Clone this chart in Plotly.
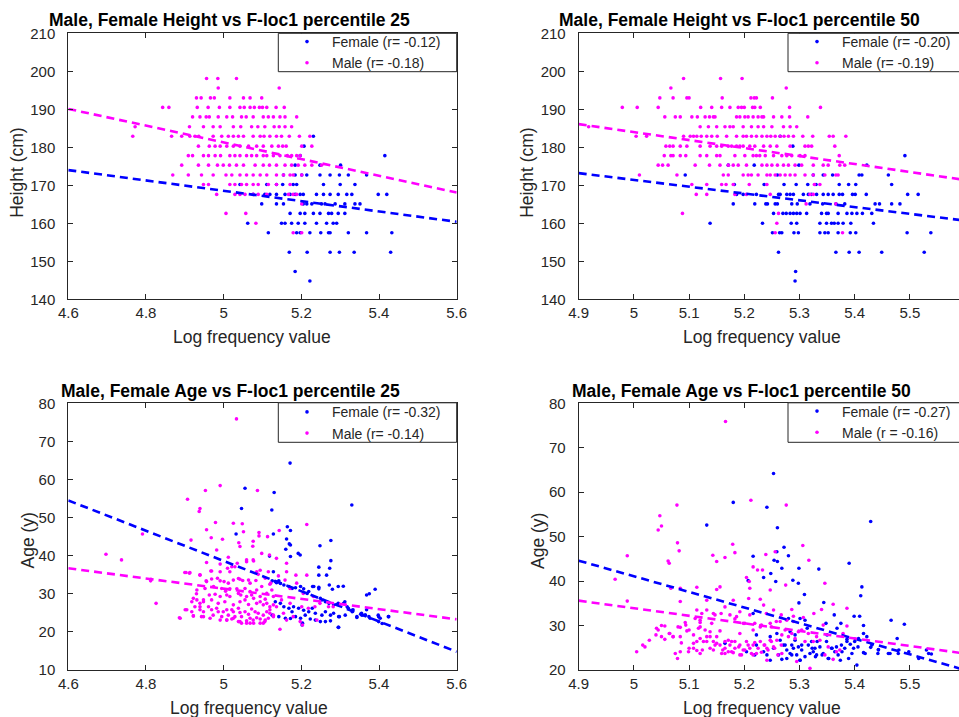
import plotly.graph_objects as go

# ---------------- data ----------------
# Panel 1: Height vs F-loc1 percentile 25 (rows of equal height, x values per row)
h25_f_rows = [182.9, 180.3, 177.8, 175.3, 172.7, 170.2, 167.6, 165.1, 162.6, 160.0, 157.5, 152.4, 147.3, 144.8]
h25_f_x = [
    [5.231], [5.207], [5.197, 5.415], [5.184, 5.248, 5.301],
    [5.154, 5.184, 5.201, 5.214, 5.248, 5.274, 5.298, 5.321, 5.368],
    [5.042, 5.111, 5.136, 5.152, 5.179, 5.188, 5.257, 5.300, 5.338],
    [5.076, 5.106, 5.119, 5.136, 5.158, 5.171, 5.184, 5.197, 5.205, 5.239, 5.257, 5.274, 5.295, 5.317, 5.330, 5.398, 5.420],
    [5.098, 5.136, 5.154, 5.205, 5.214, 5.227, 5.252, 5.261, 5.287, 5.312, 5.338, 5.351],
    [5.171, 5.197, 5.209, 5.231, 5.248, 5.270, 5.278, 5.295, 5.312],
    [5.062, 5.149, 5.158, 5.175, 5.192, 5.209, 5.239, 5.265, 5.282, 5.291],
    [5.115, 5.188, 5.197, 5.222, 5.250, 5.270, 5.274, 5.321, 5.368, 5.433],
    [5.169, 5.215, 5.274, 5.298, 5.336, 5.430],
    [5.184], [5.222],
]
h25_m_rows = [198.1, 195.6, 193.0, 190.5, 188.0, 185.4, 182.9, 180.3, 177.8, 175.3, 172.7, 170.2, 167.6, 165.1, 162.6, 160.0, 157.5]
h25_m_x = [
    [4.956, 4.985, 5.033],
    [4.986, 5.143],
    [4.930, 4.942, 4.966, 4.976, 5.016, 5.051, 5.068, 5.098],
    [4.843, 4.859, 4.932, 4.960, 4.989, 5.016, 5.042, 5.053, 5.068, 5.079, 5.092, 5.100, 5.111, 5.135, 5.156],
    [4.920, 4.939, 4.955, 4.963, 4.986, 5.008, 5.023, 5.046, 5.058, 5.076, 5.102, 5.115, 5.128, 5.145, 5.158, 5.188],
    [4.772, 4.912, 4.948, 4.973, 4.991, 5.025, 5.044, 5.072, 5.088, 5.106, 5.130, 5.143, 5.158, 5.175],
    [4.766, 4.866, 4.892, 4.913, 4.926, 4.936, 4.973, 4.995, 5.012, 5.025, 5.038, 5.051, 5.076, 5.094, 5.104, 5.119, 5.136, 5.149, 5.169, 5.195, 5.222],
    [4.935, 4.963, 4.978, 4.991, 5.008, 5.025, 5.042, 5.064, 5.085, 5.102, 5.124, 5.141, 5.152, 5.161, 5.201, 5.227],
    [4.909, 4.920, 4.948, 4.961, 4.978, 4.992, 5.016, 5.029, 5.042, 5.059, 5.072, 5.085, 5.102, 5.111, 5.128, 5.145, 5.164, 5.175, 5.188, 5.197],
    [4.892, 4.935, 4.961, 4.984, 4.999, 5.015, 5.033, 5.051, 5.081, 5.102, 5.118, 5.136, 5.158, 5.175, 5.192, 5.209, 5.227, 5.252],
    [4.869, 4.909, 4.943, 4.973, 5.006, 5.021, 5.042, 5.059, 5.076, 5.094, 5.111, 5.136, 5.154, 5.171, 5.179, 5.201],
    [4.948, 4.961, 5.016, 5.029, 5.046, 5.059, 5.076, 5.089, 5.115, 5.136, 5.171],
    [4.982, 5.029, 5.042, 5.055, 5.076, 5.089, 5.111, 5.167, 5.179, 5.188],
    [5.201], [5.006, 5.057], [5.083], [5.179, 5.201],
]

# Panel 2: Height vs F-loc1 percentile 50
h50_f_rows = [182.9, 180.3, 177.8, 175.3, 172.7, 170.2, 167.6, 165.1, 162.6, 160.0, 157.5, 152.4, 147.3, 144.8]
h50_f_x = [
    [5.265], [5.288], [5.491],
    [5.171, 5.218, 5.299, 5.422],
    [5.093, 5.260, 5.325, 5.343, 5.360, 5.408, 5.413, 5.461],
    [5.182, 5.236, 5.272, 5.294, 5.315, 5.330, 5.372, 5.389, 5.402, 5.467],
    [5.186, 5.198, 5.222, 5.262, 5.265, 5.277, 5.283, 5.289, 5.307, 5.316, 5.322, 5.331, 5.343, 5.352, 5.361, 5.372, 5.378, 5.396, 5.401, 5.421, 5.496, 5.515],
    [5.180, 5.219, 5.239, 5.242, 5.256, 5.260, 5.286, 5.296, 5.319, 5.342, 5.366, 5.382, 5.437, 5.445, 5.467, 5.482],
    [5.253, 5.270, 5.276, 5.283, 5.289, 5.295, 5.301, 5.313, 5.340, 5.349, 5.352, 5.370, 5.386, 5.395, 5.404, 5.414, 5.431],
    [5.138, 5.233, 5.285, 5.295, 5.337, 5.349, 5.358, 5.363, 5.370, 5.379, 5.393, 5.434],
    [5.251, 5.264, 5.268, 5.290, 5.298, 5.337, 5.346, 5.352, 5.370, 5.392, 5.402, 5.495, 5.538],
    [5.262, 5.366, 5.390, 5.408, 5.449, 5.526],
    [5.293], [5.292],
]
h50_m_rows = [198.1, 195.6, 193.0, 190.5, 188.0, 185.4, 182.9, 180.3, 177.8, 175.3, 172.7, 170.2, 167.6, 165.1, 162.6, 160.0, 157.5]
h50_m_x = [
    [5.090, 5.157, 5.196],
    [5.067, 5.276],
    [5.047, 5.071, 5.096, 5.100, 5.160, 5.212, 5.218, 5.222, 5.251],
    [4.979, 5.006, 5.044, 5.121, 5.141, 5.159, 5.174, 5.189, 5.195, 5.200, 5.215, 5.219, 5.229, 5.282, 5.338],
    [5.056, 5.075, 5.084, 5.105, 5.115, 5.129, 5.137, 5.144, 5.147, 5.186, 5.192, 5.201, 5.207, 5.216, 5.225, 5.232, 5.235, 5.253, 5.268, 5.282, 5.315],
    [4.918, 5.120, 5.135, 5.150, 5.165, 5.174, 5.180, 5.198, 5.213, 5.225, 5.235, 5.250, 5.271, 5.283, 5.295],
    [5.004, 5.023, 5.090, 5.102, 5.108, 5.114, 5.122, 5.132, 5.141, 5.151, 5.168, 5.186, 5.198, 5.204, 5.213, 5.222, 5.232, 5.241, 5.248, 5.256, 5.265, 5.272, 5.280, 5.289, 5.306, 5.324, 5.354, 5.361, 5.384],
    [5.058, 5.065, 5.071, 5.084, 5.096, 5.120, 5.138, 5.150, 5.159, 5.171, 5.177, 5.186, 5.192, 5.198, 5.210, 5.219, 5.235, 5.247, 5.259, 5.283, 5.310, 5.316, 5.322, 5.364],
    [5.055, 5.067, 5.071, 5.084, 5.094, 5.120, 5.132, 5.150, 5.156, 5.183, 5.201, 5.216, 5.222, 5.228, 5.238, 5.253, 5.268, 5.277, 5.286, 5.301, 5.310, 5.372],
    [5.044, 5.052, 5.062, 5.111, 5.137, 5.156, 5.171, 5.180, 5.189, 5.204, 5.232, 5.241, 5.250, 5.260, 5.271, 5.280, 5.292, 5.304, 5.325, 5.343, 5.352, 5.373, 5.382],
    [5.010, 5.078, 5.162, 5.171, 5.198, 5.207, 5.213, 5.225, 5.241, 5.247, 5.256, 5.265, 5.274, 5.283, 5.292, 5.310, 5.325, 5.346, 5.366, 5.370],
    [5.105, 5.132, 5.159, 5.167, 5.180, 5.209, 5.241, 5.327, 5.337],
    [5.113, 5.132, 5.183, 5.204, 5.247, 5.319, 5.325],
    [5.312, 5.366], [5.088, 5.262], [5.259], [5.256, 5.378],
]

# Panel 3: Age vs F-loc1 percentile 25 (x, age)
a25_f_pts = [
    (5.171, 64.3), (5.330, 53.3), (5.055, 57.7), (5.130, 56.6), (5.046, 52.4), (5.124, 52.0),
    (5.032, 45.7), (5.128, 45.7), (5.164, 47.6), (5.172, 46.6), (5.162, 44.4), (5.169, 43.1),
    (5.172, 42.8), (5.160, 41.7), (5.192, 40.6), (5.197, 40.2), (5.248, 42.6), (5.276, 44.0),
    (5.118, 39.9), (5.172, 39.8), (5.276, 38.7), (5.245, 37.0), (5.273, 36.7), (5.265, 34.9),
    (5.245, 34.9), (5.128, 35.8), (5.136, 32.9), (5.229, 31.9), (5.245, 31.7), (5.272, 32.3),
    (5.295, 31.9), (5.308, 32.0), (5.280, 31.2), (5.390, 31.2), (5.375, 30.0), (5.368, 29.7),
    (5.312, 27.9), (5.295, 27.5), (5.298, 24.0), (5.295, 21.2), (5.321, 26.2), (5.333, 25.8),
    (5.343, 23.8), (5.355, 24.9), (5.364, 24.4), (5.368, 25.8), (5.377, 23.6), (5.398, 24.4),
    (5.403, 23.6), (5.424, 24.0), (5.203, 22.3),
    (5.125, 33.4), (5.133, 33.2), (5.142, 33.4), (5.146, 32.7), (5.155, 32.3), (5.168, 31.9),
    (5.176, 31.4), (5.185, 31.6), (5.198, 31.9), (5.206, 31.3), (5.215, 30.1), (5.219, 30.6),
    (5.232, 31.9), (5.245, 31.3), (5.249, 28.8), (5.253, 28.4), (5.262, 27.9), (5.271, 27.5),
    (5.283, 27.1), (5.292, 27.2), (5.309, 27.5), (5.318, 26.6), (5.331, 25.7), (5.133, 27.9),
    (5.146, 27.5), (5.155, 26.6), (5.168, 26.2), (5.180, 26.6), (5.193, 26.2), (5.206, 25.7),
    (5.219, 25.3), (5.228, 26.2), (5.236, 24.9), (5.253, 24.4), (5.262, 25.3), (5.275, 24.4),
    (5.283, 24.9), (5.296, 24.0), (5.313, 24.4), (5.331, 25.3), (5.343, 24.0), (5.356, 24.4),
    (5.365, 24.4), (5.374, 24.0), (5.399, 24.0), (5.425, 24.0), (5.125, 24.4), (5.142, 24.0),
    (5.159, 23.6), (5.172, 23.5), (5.185, 24.0), (5.198, 23.6), (5.210, 24.4), (5.223, 23.4),
    (5.236, 23.1), (5.249, 22.7), (5.262, 22.7), (5.275, 22.9), (5.296, 21.2), (5.399, 22.7),
    (5.408, 22.2), (5.176, 25.3), (5.202, 21.8),
]
a25_m_pts = [
    (5.033, 75.9), (4.991, 58.4), (4.907, 54.8), (4.953, 57.1), (5.087, 57.1), (4.939, 52.4),
    (4.937, 51.6), (4.979, 48.7), (5.025, 48.5), (5.048, 48.4), (5.214, 48.2), (4.956, 46.8),
    (5.051, 46.3), (5.143, 46.6), (4.791, 45.7), (4.916, 44.1), (4.968, 44.7), (4.997, 44.3),
    (5.039, 43.4), (5.091, 46.1), (5.091, 45.2), (5.076, 43.8), (5.113, 45.0), (5.075, 42.5),
    (5.042, 42.4), (4.697, 40.4), (4.737, 38.9), (4.982, 41.5), (5.012, 39.6), (5.029, 37.1),
    (5.059, 38.9), (5.076, 38.9), (5.098, 40.6), (5.118, 40.2), (5.136, 39.3), (5.162, 38.0),
    (4.956, 38.2), (4.991, 37.8), (4.967, 36.0), (4.900, 35.6), (4.913, 35.6), (4.939, 34.9),
    (5.016, 35.8), (5.085, 35.8), (5.089, 35.1), (5.162, 35.8), (5.186, 34.9), (5.214, 34.9),
    (4.813, 33.8), (4.812, 33.4), (5.038, 34.0), (5.064, 33.6), (5.141, 34.7), (4.956, 33.2),
    (4.984, 34.1), (4.826, 27.5), (4.888, 23.6), (4.922, 24.2), (4.922, 28.8), (4.930, 30.0),
    (4.939, 26.6), (4.948, 28.4), (4.901, 25.8), (5.145, 20.7), (5.203, 21.8),
    (5.042, 33.8), (5.049, 33.5), (5.068, 32.8), (5.083, 33.5), (5.107, 34.1), (5.119, 32.5),
    (5.012, 32.8), (5.001, 33.2), (4.991, 33.4), (5.025, 33.6), (4.969, 36.0), (4.991, 35.8),
    (5.010, 36.7), (5.021, 37.1), (5.035, 38.0), (5.059, 38.4), (5.077, 38.6), (5.094, 36.2),
    (5.115, 35.8), (5.121, 32.8), (5.005, 30.7), (5.016, 31.3), (5.034, 31.3), (5.055, 31.4),
    (5.068, 30.6), (5.085, 31.0), (5.098, 31.9), (5.111, 30.1), (5.124, 31.0), (4.963, 29.7),
    (4.978, 29.9), (4.991, 29.3), (5.008, 29.7), (5.044, 29.7), (5.059, 29.3), (5.077, 28.8),
    (5.094, 29.3), (5.107, 28.6), (5.128, 29.3), (4.931, 28.4), (4.948, 27.9), (4.969, 28.4),
    (4.986, 27.5), (5.003, 27.9), (5.025, 27.1), (5.042, 27.9), (5.064, 27.2), (5.085, 27.5),
    (5.102, 27.1), (5.119, 26.6), (4.926, 26.6), (4.939, 25.8), (4.961, 26.6), (4.982, 26.2),
    (4.999, 25.3), (5.021, 25.8), (5.038, 26.2), (5.055, 25.3), (5.072, 26.0), (5.089, 24.9),
    (5.111, 25.3), (5.128, 24.4), (4.918, 25.3), (4.943, 24.0), (4.973, 24.4), (4.995, 24.0),
    (5.012, 24.4), (5.029, 24.0), (5.046, 24.0), (5.068, 23.6), (5.085, 23.7), (5.107, 23.1),
    (4.905, 25.8), (4.886, 23.7), (4.922, 24.2), (4.948, 24.0), (5.008, 23.1), (5.038, 22.7),
    (5.059, 22.9), (5.077, 22.3), (5.102, 22.3), (4.903, 35.6), (4.912, 35.4), (4.939, 35.0),
    (4.955, 33.4), (4.969, 33.9),
    (5.158, 33.6), (5.171, 31.4), (5.188, 32.8), (5.205, 30.1), (5.231, 29.3), (5.235, 26.6),
    (5.248, 27.5), (5.270, 26.6), (5.201, 26.6), (5.171, 27.5), (5.154, 24.9), (5.162, 23.1),
    (5.179, 24.0), (5.197, 22.7), (5.218, 26.2), (5.240, 23.1), (5.282, 26.6), (5.149, 28.4),
    (5.136, 26.6), (5.128, 24.0), (5.119, 25.8), (5.106, 22.7), (5.094, 22.3), (5.076, 23.1),
    (5.059, 22.3), (5.042, 22.7), (5.025, 23.6), (5.008, 23.1),
    (4.931, 31.0), (4.952, 31.4), (4.974, 31.9), (4.995, 31.4), (5.016, 29.3), (5.038, 30.1),
    (5.055, 28.4), (5.072, 29.7), (5.094, 27.9), (5.111, 27.5), (5.128, 27.1), (4.948, 25.3),
    (4.969, 25.8), (4.986, 25.3), (5.008, 25.8), (5.025, 25.3), (5.042, 25.1), (5.064, 24.6),
    (5.081, 25.3), (5.102, 24.4), (5.119, 24.9), (4.965, 23.6), (4.991, 23.1), (5.021, 23.4),
    (5.046, 22.3), (5.068, 22.3), (5.094, 23.4), (5.115, 23.6), (4.918, 27.9), (4.939, 27.5),
]

# Panel 4: Age vs F-loc1 percentile 50 (x, age)
a50_f_pts = [
    (5.253, 64.2), (5.429, 53.4), (5.180, 57.7), (5.241, 56.6), (5.132, 52.6), (5.260, 52.0),
    (5.272, 47.6), (5.259, 46.6), (5.254, 44.7), (5.260, 44.4), (5.280, 45.7), (5.216, 45.6),
    (5.248, 41.7), (5.235, 40.8), (5.268, 42.9), (5.299, 42.9), (5.335, 42.7), (5.207, 40.1),
    (5.257, 39.9), (5.288, 40.2), (5.298, 39.5), (5.390, 44.0), (5.413, 38.7), (5.411, 36.7),
    (5.309, 37.0), (5.344, 35.2), (5.299, 35.1), (5.399, 32.1), (5.409, 32.1), (5.363, 32.4),
    (5.466, 31.2), (5.490, 30.3), (5.416, 30.0), (5.375, 30.5), (5.348, 30.5), (5.216, 32.7),
    (5.301, 31.6), (5.310, 31.2), (5.416, 28.2), (5.422, 27.5), (5.477, 27.1), (5.404, 21.1),
    (5.429, 25.1), (5.443, 24.6), (5.442, 23.7), (5.464, 23.7), (5.479, 23.7), (5.416, 23.9),
    (5.530, 24.5), (5.539, 23.6),
    (5.247, 27.5), (5.259, 28.2), (5.265, 26.7), (5.271, 25.6), (5.277, 24.5), (5.283, 23.7),
    (5.289, 24.9), (5.295, 23.4), (5.304, 24.5), (5.310, 23.0), (5.316, 25.6), (5.322, 26.4),
    (5.325, 24.1), (5.331, 23.4), (5.337, 25.2), (5.343, 23.7), (5.349, 26.4), (5.358, 24.9),
    (5.364, 24.1), (5.370, 23.4), (5.376, 25.6), (5.382, 24.9), (5.386, 26.9), (5.392, 25.8),
    (5.395, 23.7), (5.400, 26.4), (5.406, 25.2), (5.253, 24.9), (5.262, 23.4), (5.268, 22.4),
    (5.277, 22.6), (5.286, 25.6), (5.292, 26.7), (5.298, 25.2), (5.301, 22.2), (5.319, 23.7),
    (5.328, 24.9), (5.352, 22.6), (5.367, 25.2), (5.222, 25.6), (5.235, 24.1), (5.241, 23.4),
    (5.219, 23.4), (5.204, 24.1), (5.165, 26.0), (5.222, 27.9), (5.247, 22.2),
    (5.280, 31.6), (5.292, 27.9), (5.304, 25.6), (5.314, 29.4), (5.323, 24.9), (5.332, 26.4),
    (5.341, 23.4), (5.350, 27.9), (5.359, 24.9), (5.368, 29.4), (5.377, 24.1), (5.386, 26.4),
    (5.398, 24.9), (5.407, 27.1), (5.419, 23.7), (5.431, 25.6), (5.443, 24.5), (5.461, 23.7),
    (5.480, 24.5), (5.498, 24.1), (5.516, 22.6), (5.534, 23.7), (5.286, 23.4), (5.301, 22.2),
    (5.329, 23.0), (5.353, 22.6), (5.374, 22.2), (5.389, 22.6), (5.274, 25.6), (5.283, 28.6),
]
a50_m_pts = [
    (5.166, 75.9), (5.078, 57.1), (5.212, 58.2), (5.276, 57.1), (5.047, 54.7), (5.050, 52.4),
    (5.044, 51.5), (5.079, 48.6), (5.082, 46.8), (5.179, 48.3), (5.183, 46.4), (5.306, 48.0),
    (4.988, 45.7), (5.062, 44.5), (5.064, 44.0), (5.143, 45.8), (5.150, 44.4), (5.165, 45.3),
    (5.239, 46.0), (5.256, 46.6), (5.317, 44.7), (4.966, 40.4), (5.067, 38.4), (5.084, 38.4),
    (5.114, 38.6), (5.156, 38.7), (5.150, 38.1), (5.204, 40.8), (5.209, 39.9), (5.210, 38.4),
    (5.216, 43.2), (5.224, 42.5), (5.233, 42.5), (5.247, 38.0), (5.275, 39.1), (5.346, 39.5),
    (4.988, 35.5), (5.084, 35.4), (5.180, 35.7), (5.208, 36.1), (5.229, 35.9), (5.235, 34.6),
    (5.253, 33.5), (5.286, 33.6), (5.340, 33.6), (5.361, 34.8), (5.386, 33.9), (5.289, 32.1),
    (5.307, 31.8), (5.326, 32.7), (5.084, 29.6), (5.056, 29.9), (5.044, 29.0), (5.040, 27.9),
    (5.050, 27.5), (5.064, 28.2), (5.071, 27.5), (5.084, 27.5), (5.028, 26.7), (5.016, 25.6),
    (5.020, 25.2), (5.005, 24.1), (5.075, 23.7), (5.084, 24.1), (5.079, 22.6), (5.094, 30.1),
    (5.100, 29.0), (5.108, 27.9), (5.114, 26.4), (5.120, 29.7), (5.120, 27.1), (5.126, 26.4),
    (5.132, 27.5), (5.138, 28.6), (5.144, 26.4), (5.150, 26.0), (5.156, 25.6), (5.161, 24.5),
    (5.165, 23.7), (5.171, 24.1), (5.177, 26.4), (5.183, 24.9), (5.192, 25.6), (5.198, 24.5),
    (5.204, 26.4), (5.210, 24.9), (5.216, 25.6), (5.222, 23.7), (5.229, 26.4), (5.236, 25.6),
    (5.241, 24.9), (5.247, 26.7), (5.253, 25.2), (5.259, 26.7), (5.268, 27.9), (5.274, 29.0),
    (5.280, 27.5), (5.286, 28.2), (5.292, 27.1), (5.298, 28.6), (5.304, 29.0), (5.310, 26.4),
    (5.316, 28.2), (5.325, 26.4), (5.331, 27.5), (5.337, 26.7), (5.352, 25.2), (5.361, 22.4),
    (5.367, 24.1), (5.346, 23.4), (5.373, 24.5), (5.379, 28.2), (5.343, 30.1), (5.386, 29.9),
    (5.319, 20.4), (5.295, 21.9), (5.268, 23.7), (5.241, 22.2), (5.216, 23.4), (5.192, 23.4),
    (5.180, 23.9), (5.144, 24.5), (5.120, 23.7), (5.099, 24.1), (5.108, 24.9), (5.138, 24.9),
    (5.165, 26.4), (5.192, 28.2), (5.216, 29.0), (5.229, 29.7), (5.247, 30.5), (5.265, 30.9),
    (5.277, 31.2), (5.289, 30.9), (5.186, 32.0), (5.198, 30.5), (5.144, 32.7), (5.120, 31.2),
    (5.114, 33.5), (5.132, 35.7),
    (5.041, 29.4), (5.050, 30.0), (5.056, 26.9), (5.065, 28.2), (5.071, 27.5), (5.080, 29.7),
    (5.086, 26.1), (5.093, 30.7), (5.096, 28.8), (5.100, 24.9), (5.108, 26.0), (5.114, 24.4),
    (5.117, 29.4), (5.120, 30.7), (5.124, 24.5), (5.129, 29.0), (5.132, 26.4), (5.138, 27.5),
    (5.141, 30.5), (5.147, 25.6), (5.150, 27.5), (5.156, 28.8), (5.159, 23.7), (5.165, 24.9),
    (5.171, 26.7), (5.174, 25.6), (5.177, 24.1), (5.183, 26.4), (5.190, 25.2), (5.195, 23.4),
    (5.201, 24.5), (5.207, 25.6), (5.213, 23.7), (5.219, 26.2), (5.225, 24.9), (5.231, 24.0),
    (5.237, 25.6), (5.243, 24.5), (5.249, 26.4), (5.255, 24.9), (5.261, 23.4), (5.267, 25.6),
    (5.111, 31.6), (5.123, 32.7), (5.132, 33.5), (5.147, 32.4), (5.158, 32.7), (5.165, 34.2),
    (5.174, 32.4), (5.183, 31.5), (5.192, 33.1), (5.201, 30.5), (5.210, 32.4), (5.219, 30.5),
    (5.231, 30.1), (5.240, 32.7), (5.249, 29.7), (5.258, 30.9), (5.267, 32.4),
]

# Fitted regression lines (end points)
fit_x_25 = [4.6, 5.6]
fit_x_50 = [4.9, 5.6]
h25_f_fit = [174.0, 160.4]
h25_m_fit = [190.1, 168.1]
h50_f_fit = [173.2, 160.7]
h50_m_fit = [186.1, 171.4]
a25_f_fit = [54.5, 14.8]
a25_m_fit = [36.7, 23.3]
a50_f_fit = [44.6, 20.0]
a50_m_fit = [35.6, 23.7]

legend_labels = [
    ("Female (r= -0.12)", "Male (r= -0.18)"),
    ("Female (r= -0.20)", "Male (r= -0.19)"),
    ("Female (r= -0.32)", "Male (r= -0.14)"),
    ("Female (r= -0.27)", "Male (r = -0.16)"),
]
titles = [
    "Male, Female Height vs F-loc1 percentile 25",
    "Male, Female Height vs F-loc1 percentile 50",
    "Male, Female Age vs F-loc1 percentile 25",
    "Male, Female Age vs F-loc1 percentile 50",
]
x_ticks_25 = [4.6, 4.8, 5.0, 5.2, 5.4, 5.6]
x_ticks_25_txt = ["4.6", "4.8", "5", "5.2", "5.4", "5.6"]
x_ticks_50 = [4.9, 5.0, 5.1, 5.2, 5.3, 5.4, 5.5]
x_ticks_50_txt = ["4.9", "5", "5.1", "5.2", "5.3", "5.4", "5.5"]
y_ticks_h = [140, 150, 160, 170, 180, 190, 200, 210]
y_ticks_a25 = [10, 20, 30, 40, 50, 60, 70, 80]
y_ticks_a50 = [20, 30, 40, 50, 60, 70, 80]


def flatten_rows(rows, xs):
    fx, fy = [], []
    for h, row in zip(rows, xs):
        for v in row:
            fx.append(v)
            fy.append(h)
    return fx, fy


def unzip(pts):
    return [p[0] for p in pts], [p[1] for p in pts]


BLUE = "#0000FF"
MAG = "#FF00FF"
FONT = "Liberation Sans, Arial, sans-serif"
AX = "#262626"
W, H = 959, 717

panels = [
    (flatten_rows(h25_f_rows, h25_f_x), flatten_rows(h25_m_rows, h25_m_x), fit_x_25, h25_f_fit, h25_m_fit),
    (flatten_rows(h50_f_rows, h50_f_x), flatten_rows(h50_m_rows, h50_m_x), fit_x_50, h50_f_fit, h50_m_fit),
    (unzip(a25_f_pts), unzip(a25_m_pts), fit_x_25, a25_f_fit, a25_m_fit),
    (unzip(a50_f_pts), unzip(a50_m_pts), fit_x_50, a50_f_fit, a50_m_fit),
]

fig = go.Figure()
legend_ids = ["legend", "legend2", "legend3", "legend4"]
for i, (fem, mal, fx, ffit, mfit) in enumerate(panels):
    xa = "x" if i == 0 else f"x{i+1}"
    ya = "y" if i == 0 else f"y{i+1}"
    lg = legend_ids[i]
    fig.add_trace(go.Scatter(x=fem[0], y=fem[1], mode="markers", name=legend_labels[i][0],
                             marker=dict(color=BLUE, size=3.6), xaxis=xa, yaxis=ya, legend=lg))
    fig.add_trace(go.Scatter(x=mal[0], y=mal[1], mode="markers", name=legend_labels[i][1],
                             marker=dict(color=MAG, size=3.6), xaxis=xa, yaxis=ya, legend=lg))
    fig.add_trace(go.Scatter(x=fx, y=ffit, mode="lines", showlegend=False,
                             line=dict(color=BLUE, width=2.6, dash="8px,5px"), xaxis=xa, yaxis=ya))
    fig.add_trace(go.Scatter(x=fx, y=mfit, mode="lines", showlegend=False,
                             line=dict(color=MAG, width=2.6, dash="8px,5px"), xaxis=xa, yaxis=ya))

# geometry (pixels)
left_x = [68.3 / W, 456.7 / W]
right_x = [578.7 / W, 1.0]
top_y = [1 - 299.3 / H, 1 - 33.3 / H]
bot_y = [1 - 670.0 / H, 1 - 403.3 / H]


def xaxis(domain, rng, tv, tt, anchor):
    return dict(domain=domain, range=rng, tickvals=tv, ticktext=tt, anchor=anchor,
                showline=True, linecolor=AX, linewidth=1, mirror="ticks", ticks="inside",
                ticklen=5, tickcolor=AX, showgrid=False, zeroline=False, automargin=False,
                tickfont=dict(family=FONT, size=15, color=AX))


def yaxis(domain, rng, tv, anchor, mirror):
    return dict(domain=domain, range=rng, tickvals=tv, anchor=anchor,
                showline=True, linecolor=AX, linewidth=1, mirror=mirror, ticks="inside",
                ticklen=5, tickcolor=AX, showgrid=False, zeroline=False, automargin=False,
                ticklabelstandoff=9,
                tickfont=dict(family=FONT, size=15, color=AX))


def legend(left_px, top_px):
    return dict(x=left_px / W, xanchor="left", y=1 - top_px / H, yanchor="top",
                bgcolor="rgba(0,0,0,0)", borderwidth=0,
                font=dict(family=FONT, size=14, color=AX),
                itemwidth=40, tracegroupgap=0)


# legend frames (pixels): x0, y0, x1, y1
legend_boxes = [(278.3, 33.3, 456.7, 71.7), (788, 33.3, 975, 71.7),
                (278.3, 402.8, 456.7, 442.3), (788, 402.8, 975, 442.3)]
shapes = [dict(type="rect", xref="paper", yref="paper", x0=a / W, x1=c / W, y0=1 - d / H, y1=1 - b / H,
               fillcolor="white", line=dict(color=AX, width=1), layer="above")
          for (a, b, c, d) in legend_boxes]

ann = []
title_pos = [(229.5, 20), (739, 20), (230.5, 391), (741, 391)]
for t, (px, py) in zip(titles, title_pos):
    ann.append(dict(text=f"<b>{t}</b>", x=px / W, y=1 - py / H, xref="paper", yref="paper",
                    xanchor="center", yanchor="middle", showarrow=False,
                    font=dict(family=FONT, size=17.5, color="black")))
xt_pos = [(251.7, 337), (762, 337), (249, 708), (762, 708)]
for (px, py) in xt_pos:
    ann.append(dict(text="Log frequency value", x=px / W, y=1 - py / H, xref="paper", yref="paper",
                    xanchor="center", yanchor="middle", showarrow=False,
                    font=dict(family=FONT, size=17.5, color=AX)))
yt = [("Height (cm)", 17.5, 173.3), ("Height (cm)", 527.5, 173.3), ("Age (y)", 27.5, 541), ("Age (y)", 538, 541)]
for (t, px, py) in yt:
    ann.append(dict(text=t, x=px / W, y=1 - py / H, xref="paper", yref="paper", textangle=-90,
                    xanchor="center", yanchor="middle", showarrow=False,
                    font=dict(family=FONT, size=17.5, color=AX)))

fig.update_layout(
    width=W, height=H, autosize=False,
    margin=dict(l=0, r=0, t=0, b=0, pad=0),
    paper_bgcolor="white", plot_bgcolor="white",
    font=dict(family=FONT, color=AX),
    xaxis=xaxis(left_x, [4.6, 5.6], x_ticks_25, x_ticks_25_txt, "y"),
    yaxis=yaxis(top_y, [140, 210], y_ticks_h, "x", "ticks"),
    xaxis2=xaxis(right_x, [4.9, 5.589], x_ticks_50, x_ticks_50_txt, "y2"),
    yaxis2=yaxis(top_y, [140, 210], y_ticks_h, "x2", False),
    xaxis3=xaxis(left_x, [4.6, 5.6], x_ticks_25, x_ticks_25_txt, "y3"),
    yaxis3=yaxis(bot_y, [10, 80], y_ticks_a25, "x3", "ticks"),
    xaxis4=xaxis(right_x, [4.9, 5.589], x_ticks_50, x_ticks_50_txt, "y4"),
    yaxis4=yaxis(bot_y, [20, 80], y_ticks_a50, "x4", False),
    legend=legend(282, 26),
    legend2=legend(792, 26),
    legend3=legend(282, 396.3),
    legend4=legend(792, 395.5),
    shapes=shapes,
    annotations=ann,
    showlegend=True,
)

fig.write_html("out.html", config={"displayModeBar": False})
